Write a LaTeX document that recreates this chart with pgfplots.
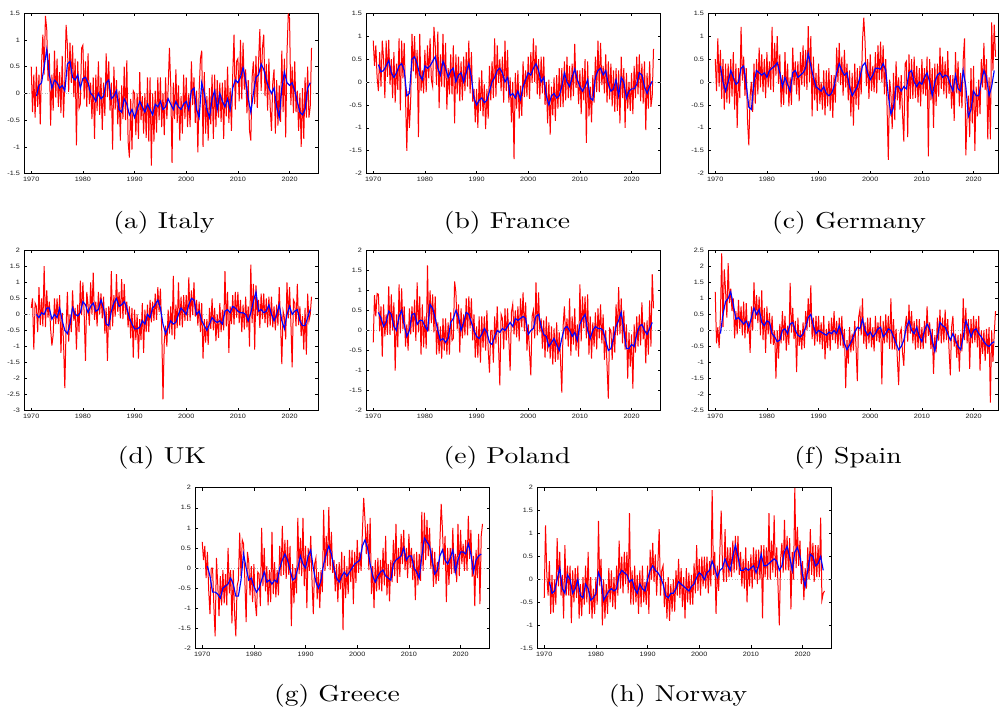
\documentclass[border=0pt]{standalone}
\usepackage{pgfplots}
\pgfplotsset{compat=1.18}
\usepackage{graphicx}
\usepackage{fontspec}
\newfontfamily\tickfont{Liberation Sans}
\pgfplotsset{
 panel/.style={
  scale only axis, width=294.5pt, height=160.5pt,
  xmin=1968.6, xmax=2025.6,
  xtick={1970,1980,1990,2000,2010,2020},
  tick align=inside, major tick length=3pt,
  axis line style={line width=1pt},
  every tick/.style={black, line width=0.6pt},
  /pgf/number format/assume math mode=true,
  ticklabel style={font=\tickfont\fontsize{6.3}{7}\selectfont, text=black!90, xscale=1.15},
  xticklabel style={/pgf/number format/1000 sep={}},
  anchor=south west,
 },
 redl/.style={red, line width=1pt, no markers},
 bluel/.style={blue, line width=1.15pt, no markers},
 zl/.style={gray!55, dotted, line width=0.6pt},
}
\newcommand\figcap[1]{\scalebox{2.76}[2.3]{\fontsize{10}{12}\selectfont #1}}
\begin{document}
\begin{tikzpicture}
\useasboundingbox (0,0) rectangle (999pt,708pt);
% ---------------- Italy
\begin{axis}[panel, at={(24pt,534.3pt)}, ymin=-1.5, ymax=1.5, ytick={-1.5,-1,-0.5,0,0.5,1,1.5}]
\addplot[zl] coordinates {(1968.6,0) (2025.6,0)};
\addplot[redl] table[header=false, row sep=\\, x expr={1970+0.25*\coordindex}, y index=0] {
0.50\\ -0.35\\ 0.35\\ -0.45\\
0.50\\ -0.25\\ 0.35\\ -0.58\\
0.55\\ 1.10\\ 0.35\\ 1.45\\
1.20\\ 0.23\\ 0.75\\ -0.60\\
0.35\\ -0.32\\ 0.80\\ -0.08\\
0.65\\ -0.25\\ 0.40\\ -0.37\\
0.70\\ -0.45\\ 0.25\\ 1.28\\
0.90\\ 0.03\\ 0.95\\ 0.20\\
0.90\\ -0.07\\ 0.65\\ -0.97\\
0.60\\ -0.28\\ -0.20\\ 0.85\\
0.90\\ -0.11\\ 0.60\\ -0.25\\
0.75\\ -0.20\\ 0.20\\ -0.48\\
0.30\\ -0.85\\ 0.35\\ -0.33\\
0.60\\ -0.40\\ 0.30\\ -0.68\\
0.20\\ -0.42\\ 0.75\\ -0.07\\
0.60\\ -0.32\\ 0.20\\ -1.05\\
0.50\\ -0.30\\ 0.25\\ -0.58\\
0.05\\ -0.88\\ 0.15\\ -0.48\\
0.50\\ -0.50\\ 0.62\\ -0.90\\
-1.20\\ -0.10\\ -1.05\\ 0.05\\
0.00\\ -0.78\\ 0.00\\ -0.85\\
0.40\\ -0.50\\ -0.05\\ -0.75\\
0.00\\ -0.83\\ 0.30\\ -0.90\\
0.30\\ -1.35\\ 0.00\\ -0.90\\
0.05\\ -0.73\\ 0.30\\ -0.50\\
0.30\\ -0.63\\ 0.00\\ -0.78\\
0.30\\ -0.48\\ 0.10\\ 0.85\\
0.15\\ -1.30\\ 0.20\\ -0.48\\
0.45\\ -0.55\\ 0.15\\ -0.88\\
-0.05\\ -0.75\\ 0.35\\ -0.48\\
0.30\\ -0.63\\ 0.00\\ -0.63\\
0.60\\ -0.22\\ 0.30\\ -0.55\\
0.05\\ -1.10\\ 0.05\\ 0.65\\
0.80\\ -1.00\\ 0.40\\ -0.75\\
-0.05\\ -0.88\\ 0.10\\ -0.58\\
0.35\\ -0.85\\ 0.35\\ -0.63\\
0.25\\ -0.45\\ 0.20\\ -0.53\\
0.20\\ -0.85\\ 0.25\\ -0.43\\
0.50\\ -0.55\\ 0.10\\ -0.70\\
0.35\\ 1.10\\ -0.30\\ 0.60\\
0.65\\ -0.15\\ 1.00\\ -0.11\\
0.95\\ 0.07\\ 0.45\\ -0.37\\
0.25\\ -0.70\\ -0.88\\ 0.30\\
0.60\\ -0.20\\ 0.70\\ -0.27\\
0.60\\ 1.20\\ 0.05\\ 0.85\\
1.10\\ -0.05\\ 0.55\\ -0.32\\
0.65\\ -0.25\\ -0.70\\ 0.20\\
0.45\\ -0.75\\ 0.25\\ -0.60\\
0.15\\ -0.53\\ 0.80\\ -0.35\\
0.65\\ -0.82\\ 0.75\\ 1.48\\
1.40\\ -0.22\\ 0.50\\ -0.37\\
0.60\\ -0.35\\ 0.05\\ -0.70\\
0.00\\ -1.00\\ 0.10\\ -0.85\\
0.30\\ -0.45\\ 0.50\\ -0.45\\
-0.25\\ 0.85\\
};
\addplot[bluel] table[header=false, row sep=\\, x expr={1971+0.5*\coordindex}, y index=0] {
-0.05\\ 0.15\\ 0.2\\ 0.5\\ 0.82\\ 0.35\\ 0.1\\ 0.25\\ 0.2\\ 0.1\\
0.15\\ 0.05\\ 0.55\\ 0.6\\ 0.3\\ 0.25\\ 0.35\\ 0.1\\ 0.28\\ 0.3\\
0.2\\ 0.0\\ -0.05\\ -0.15\\ 0.0\\ -0.1\\ -0.05\\ 0.2\\ 0.25\\ -0.1\\
-0.05\\ 0.05\\ -0.3\\ -0.35\\ -0.1\\ -0.2\\ -0.4\\ -0.3\\ -0.45\\ -0.3\\
-0.15\\ -0.25\\ -0.35\\ -0.2\\ -0.3\\ -0.4\\ -0.2\\ -0.25\\ -0.15\\ -0.3\\
-0.25\\ -0.1\\ -0.2\\ -0.3\\ -0.15\\ -0.25\\ -0.3\\ -0.2\\ -0.15\\ -0.3\\
0.05\\ 0.1\\ -0.3\\ -0.45\\ 0.2\\ 0.0\\ -0.3\\ -0.45\\ -0.1\\ 0.05\\
-0.3\\ 0.0\\ -0.15\\ -0.25\\ -0.1\\ -0.3\\ 0.1\\ 0.25\\ 0.2\\ 0.3\\
0.48\\ 0.25\\ -0.1\\ -0.35\\ 0.0\\ 0.3\\ 0.35\\ 0.55\\ 0.45\\ 0.25\\
0.1\\ 0.0\\ 0.1\\ -0.25\\ -0.45\\ 0.1\\ 0.4\\ 0.2\\ 0.15\\ 0.2\\
0.05\\ -0.15\\ -0.35\\ -0.4\\ -0.3\\ 0.1\\ 0.2\\
};
\end{axis}
% ---------------- France
\begin{axis}[panel, at={(366pt,534.3pt)}, ymin=-2, ymax=1.5, ytick={-2,-1.5,-1,-0.5,0,0.5,1,1.5}]
\addplot[zl] coordinates {(1968.6,0) (2025.6,0)};
\addplot[redl] table[header=false, row sep=\\, x expr={1970+0.25*\coordindex}, y index=0] {
0.90\\ 0.35\\ 0.80\\ 0.10\\
-0.20\\ 0.65\\ -0.10\\ 0.90\\
0.50\\ -0.35\\ 0.90\\ 0.11\\
0.92\\ -0.06\\ 0.50\\ -0.35\\
0.65\\ -0.45\\ 0.40\\ -0.17\\
0.95\\ -0.62\\ 0.90\\ 0.08\\
0.85\\ -0.35\\ -1.50\\ -0.20\\
-1.00\\ -0.40\\ 1.05\\ 0.23\\
1.00\\ 0.08\\ 0.70\\ -1.20\\
1.05\\ -0.20\\ 0.25\\ -0.25\\
0.70\\ -0.22\\ 0.80\\ 0.08\\
0.95\\ 0.05\\ -0.10\\ 1.20\\
0.80\\ -0.07\\ 1.10\\ -0.57\\
0.60\\ -0.10\\ 1.05\\ -0.12\\
0.85\\ -0.60\\ 0.30\\ -0.27\\
0.60\\ -0.27\\ 0.80\\ -0.90\\
0.60\\ -0.27\\ 0.55\\ -0.42\\
0.45\\ -0.40\\ 0.55\\ -0.20\\
0.65\\ -0.10\\ 0.90\\ -0.25\\
0.65\\ -0.43\\ -0.15\\ -0.88\\
-0.15\\ -1.00\\ 0.10\\ -0.63\\
0.25\\ -0.75\\ -0.05\\ -1.03\\
-0.15\\ -0.80\\ 0.35\\ -0.40\\
0.45\\ -0.35\\ 0.95\\ -0.32\\
0.80\\ -0.02\\ 0.50\\ -0.20\\
0.55\\ -0.45\\ 0.90\\ -0.20\\
0.70\\ -0.45\\ 0.10\\ -0.88\\
0.00\\ -1.68\\ 0.20\\ -0.58\\
0.25\\ -0.80\\ -0.08\\ -0.74\\
0.45\\ -0.33\\ 0.25\\ -0.32\\
0.55\\ -0.37\\ 0.65\\ -0.02\\
0.95\\ 0.00\\ 0.80\\ -0.27\\
0.50\\ -0.37\\ 0.55\\ -0.25\\
0.55\\ -0.50\\ 0.00\\ -0.90\\
0.05\\ -1.15\\ -0.10\\ -0.73\\
0.10\\ -0.85\\ 0.15\\ -0.58\\
0.30\\ -0.55\\ 0.30\\ -0.55\\
0.45\\ -0.40\\ 0.55\\ -0.35\\
0.35\\ -0.40\\ 0.40\\ -0.31\\
0.83\\ -0.13\\ 0.25\\ -0.48\\
0.25\\ -0.70\\ 0.30\\ -0.40\\
0.50\\ -1.33\\ 0.45\\ -0.75\\
-0.10\\ -0.88\\ 0.15\\ -0.45\\
0.55\\ -0.22\\ 0.90\\ -0.22\\
0.85\\ -0.07\\ 0.35\\ -0.25\\
0.60\\ -0.45\\ 0.45\\ -0.38\\
0.40\\ -0.53\\ 0.25\\ -0.65\\
0.30\\ -0.63\\ 0.25\\ -0.90\\
0.55\\ -0.35\\ 0.30\\ -1.00\\
0.20\\ -0.58\\ 0.00\\ -0.63\\
0.20\\ -0.70\\ 0.35\\ -0.35\\
0.55\\ -0.27\\ 0.60\\ -0.42\\
0.40\\ -0.47\\ 0.45\\ -1.05\\
0.20\\ -0.58\\ 0.45\\ -0.54\\
-0.30\\ 0.72\\
};
\addplot[bluel] table[header=false, row sep=\\, x expr={1971+0.5*\coordindex}, y index=0] {
0.38\\ 0.22\\ 0.25\\ 0.35\\ 0.47\\ 0.2\\ 0.1\\ 0.2\\ 0.35\\ 0.4\\
0.25\\ -0.3\\ -0.25\\ 0.5\\ 0.55\\ 0.4\\ 0.15\\ 0.05\\ 0.35\\ 0.3\\
0.35\\ 0.45\\ 0.55\\ 0.3\\ 0.15\\ 0.45\\ 0.3\\ 0.1\\ 0.25\\ 0.3\\
0.0\\ 0.15\\ 0.2\\ 0.0\\ 0.2\\ 0.4\\ 0.1\\ -0.35\\ -0.5\\ -0.4\\
-0.35\\ -0.45\\ -0.4\\ -0.2\\ 0.0\\ 0.1\\ 0.25\\ 0.3\\ 0.2\\ 0.0\\
0.1\\ -0.3\\ -0.25\\ -0.35\\ -0.2\\ -0.38\\ -0.1\\ 0.05\\ 0.2\\ 0.15\\
0.3\\ 0.4\\ 0.25\\ 0.0\\ 0.1\\ -0.3\\ -0.5\\ -0.3\\ -0.25\\ -0.35\\
-0.3\\ -0.1\\ 0.2\\ 0.0\\ -0.1\\ 0.1\\ 0.28\\ 0.05\\ -0.1\\ -0.2\\
-0.1\\ 0.05\\ -0.35\\ -0.4\\ 0.1\\ 0.25\\ 0.3\\ 0.15\\ 0.25\\ -0.05\\
-0.2\\ -0.15\\ 0.05\\ -0.3\\ 0.1\\ 0.0\\ -0.35\\ -0.2\\ -0.15\\ -0.15\\
-0.05\\ 0.2\\ 0.15\\ -0.1\\ -0.25\\ -0.1\\ 0.02\\
};
\end{axis}
% ---------------- Germany
\begin{axis}[panel, width=290pt, xmax=2024.73, at={(708pt,534.3pt)}, ymin=-2, ymax=1.5, ytick={-2,-1.5,-1,-0.5,0,0.5,1,1.5}]
\addplot[zl] coordinates {(1968.6,0) (2025.6,0)};
\addplot[redl] table[header=false, row sep=\\, x expr={1970+0.25*\coordindex}, y index=0] {
0.50\\ -0.20\\ 0.95\\ -0.10\\
0.70\\ -0.37\\ 0.50\\ -0.60\\
0.40\\ -0.45\\ 0.40\\ -0.47\\
0.50\\ -0.32\\ 0.65\\ -0.60\\
0.40\\ -1.00\\ 0.30\\ -0.35\\
1.20\\ 0.03\\ 0.55\\ -0.30\\
0.30\\ -0.85\\ -1.38\\ -0.30\\
0.00\\ -0.65\\ 0.40\\ -0.47\\
0.50\\ -0.27\\ 0.75\\ -0.12\\
0.60\\ -0.22\\ 0.50\\ -0.35\\
0.65\\ -0.12\\ 0.45\\ -0.17\\
1.20\\ -0.22\\ 0.85\\ 0.14\\
1.00\\ -0.04\\ 0.60\\ -0.55\\
0.15\\ -0.50\\ 0.65\\ -0.27\\
0.40\\ -0.53\\ 0.10\\ -0.50\\
0.75\\ -0.07\\ 0.45\\ -0.27\\
0.45\\ -0.42\\ 0.65\\ -0.07\\
0.80\\ -0.10\\ 0.70\\ -0.17\\
1.22\\ 0.00\\ 1.00\\ -0.75\\
0.55\\ -0.40\\ 0.20\\ -0.63\\
0.40\\ -0.48\\ 0.00\\ -0.60\\
0.25\\ -0.73\\ 0.25\\ -0.53\\
0.30\\ -0.63\\ 0.15\\ -0.78\\
0.15\\ -0.45\\ 0.75\\ 0.00\\
0.85\\ -0.07\\ 0.55\\ -0.30\\
0.70\\ -0.12\\ 0.40\\ -0.40\\
0.25\\ -0.75\\ 0.20\\ -0.95\\
0.40\\ -0.50\\ 0.30\\ -0.60\\
0.35\\ -0.27\\ 0.90\\ 1.40\\
0.87\\ -0.09\\ 0.50\\ -0.37\\
0.60\\ -0.20\\ 0.35\\ -0.22\\
0.65\\ -0.25\\ 0.80\\ 0.04\\
0.88\\ -0.01\\ 0.80\\ -0.27\\
0.50\\ -0.53\\ -1.70\\ 0.05\\
-0.25\\ -1.03\\ 0.20\\ -0.83\\
0.45\\ -0.40\\ 0.10\\ -0.60\\
0.15\\ -0.70\\ -1.30\\ 0.40\\
0.45\\ -1.20\\ 0.60\\ -0.37\\
0.50\\ -0.37\\ 0.55\\ -0.35\\
0.35\\ -0.45\\ 0.30\\ -0.53\\
0.50\\ -0.27\\ 0.30\\ -0.30\\
0.55\\ -1.62\\ 0.50\\ -0.40\\
0.30\\ -1.00\\ 0.40\\ -0.52\\
0.40\\ -0.32\\ 0.75\\ -0.15\\
0.55\\ -0.27\\ 0.45\\ -0.36\\
0.67\\ -0.26\\ 0.15\\ -0.58\\
0.15\\ -0.85\\ 0.65\\ -0.25\\
0.45\\ -0.53\\ 0.20\\ -0.57\\
0.50\\ 0.95\\ -1.60\\ -0.73\\
-0.30\\ -1.20\\ 0.30\\ -0.90\\
0.35\\ -1.50\\ -0.10\\ -0.75\\
0.05\\ -0.70\\ 0.50\\ -0.12\\
0.85\\ -0.17\\ 0.50\\ -1.25\\
0.10\\ -1.25\\ 1.30\\ 0.25\\
1.25\\ 0.55\\
};
\addplot[bluel] table[header=false, row sep=\\, x expr={1971+0.5*\coordindex}, y index=0] {
0.35\\ 0.0\\ -0.2\\ 0.0\\ 0.25\\ 0.1\\ -0.05\\ 0.0\\ 0.3\\ 0.35\\
-0.05\\ -0.55\\ -0.6\\ 0.0\\ 0.25\\ 0.2\\ 0.15\\ 0.2\\ 0.1\\ 0.25\\
0.3\\ 0.35\\ 0.42\\ 0.2\\ -0.1\\ 0.1\\ -0.05\\ -0.2\\ 0.2\\ 0.25\\
0.1\\ 0.15\\ 0.2\\ 0.3\\ 0.62\\ 0.35\\ 0.1\\ -0.1\\ -0.15\\ -0.2\\
-0.1\\ -0.25\\ -0.3\\ -0.25\\ -0.1\\ 0.2\\ 0.4\\ 0.25\\ 0.15\\ 0.2\\
-0.1\\ -0.3\\ -0.2\\ -0.1\\ 0.1\\ 0.35\\ 0.42\\ 0.2\\ 0.05\\ 0.15\\
0.3\\ 0.3\\ 0.28\\ 0.4\\ 0.25\\ -0.3\\ -0.7\\ -0.55\\ -0.1\\ -0.1\\
-0.2\\ -0.1\\ -0.15\\ 0.2\\ 0.25\\ 0.0\\ -0.1\\ 0.0\\ -0.05\\ 0.1\\
0.2\\ 0.0\\ -0.3\\ 0.0\\ 0.15\\ 0.2\\ 0.1\\ 0.15\\ 0.12\\ -0.05\\
-0.2\\ 0.15\\ -0.15\\ -0.2\\ 0.25\\ -0.1\\ -0.75\\ -0.6\\ -0.2\\ -0.3\\
-0.3\\ 0.0\\ 0.25\\ 0.1\\ -0.3\\ -0.1\\ 0.25\\
};
\end{axis}
% ---------------- UK
\begin{axis}[panel, at={(24pt,297.3pt)}, ymin=-3, ymax=2, ytick={-3,-2.5,-2,-1.5,-1,-0.5,0,0.5,1,1.5,2}]
\addplot[zl] coordinates {(1968.6,0) (2025.6,0)};
\addplot[redl] table[header=false, row sep=\\, x expr={1970+0.25*\coordindex}, y index=0] {
0.20\\ 0.50\\ -1.10\\ 0.35\\
0.25\\ -0.55\\ 0.85\\ -0.33\\
0.50\\ -0.37\\ 1.50\\ -0.40\\
0.75\\ -0.10\\ 0.40\\ -0.45\\
-0.97\\ -0.63\\ 0.50\\ -0.30\\
0.50\\ -0.30\\ 0.60\\ -1.20\\
0.05\\ -0.85\\ -2.30\\ -0.40\\
0.70\\ -0.85\\ 0.00\\ -0.55\\
0.75\\ -0.20\\ 0.20\\ -1.10\\
0.30\\ -0.55\\ 1.05\\ -0.02\\
1.00\\ 0.00\\ -1.45\\ 0.70\\
0.30\\ -0.35\\ 1.00\\ 0.00\\
1.30\\ -0.17\\ 0.40\\ -0.37\\
0.70\\ 0.00\\ 0.65\\ -0.12\\
0.55\\ -0.60\\ 0.20\\ -1.45\\
0.25\\ -0.48\\ 1.35\\ -0.37\\
0.60\\ -0.07\\ 1.25\\ 0.08\\
0.70\\ -0.12\\ 1.10\\ -0.15\\
0.95\\ 0.00\\ 0.40\\ -0.40\\
0.25\\ -0.75\\ 0.20\\ -1.35\\
0.15\\ -0.80\\ 0.00\\ -1.38\\
-0.15\\ -0.80\\ 0.35\\ -1.20\\
0.15\\ -0.55\\ 0.30\\ -0.55\\
0.45\\ -0.25\\ 0.40\\ -0.20\\
0.65\\ -0.17\\ 0.85\\ 0.08\\
0.80\\ -0.40\\ -2.65\\ -0.85\\
-0.35\\ -1.00\\ 0.15\\ -0.60\\
0.25\\ -0.65\\ 1.20\\ -0.78\\
0.30\\ -0.43\\ 1.00\\ -0.35\\
0.55\\ -0.40\\ 0.60\\ -0.20\\
0.60\\ -0.20\\ 1.15\\ -0.20\\
0.75\\ -0.02\\ 1.00\\ -0.07\\
0.45\\ -0.35\\ 0.40\\ -0.55\\
0.35\\ -1.38\\ -0.15\\ -0.88\\
-0.15\\ -0.95\\ 0.20\\ -0.45\\
0.50\\ -0.50\\ 0.20\\ -0.83\\
0.00\\ -0.73\\ 0.35\\ -0.55\\
0.15\\ -0.50\\ 1.35\\ -0.37\\
0.70\\ -1.20\\ 0.25\\ -0.30\\
0.60\\ -0.32\\ 0.70\\ -0.10\\
0.70\\ -0.27\\ 0.45\\ -0.55\\
0.30\\ -0.47\\ 0.55\\ -0.40\\
0.25\\ -1.00\\ 1.55\\ -0.27\\
0.95\\ -1.10\\ 0.90\\ -0.05\\
0.45\\ -0.42\\ 0.65\\ -0.15\\
0.65\\ -0.27\\ 0.50\\ -0.40\\
0.55\\ -0.35\\ 0.55\\ -0.40\\
0.25\\ -0.50\\ 0.30\\ -0.35\\
0.85\\ -0.25\\ -1.55\\ 0.10\\
-0.10\\ -0.78\\ 1.00\\ -0.12\\
0.85\\ -0.22\\ -1.65\\ 0.45\\
0.35\\ -0.37\\ 0.95\\ -0.33\\
0.25\\ -0.68\\ -0.05\\ -1.10\\
0.20\\ -1.25\\ 0.65\\ -0.20\\
0.00\\ 0.55\\
};
\addplot[bluel] table[header=false, row sep=\\, x expr={1971+0.5*\coordindex}, y index=0] {
0.0\\ -0.1\\ 0.05\\ 0.0\\ 0.2\\ 0.2\\ -0.15\\ 0.0\\ -0.1\\ 0.2\\
-0.2\\ -0.5\\ -0.6\\ -0.3\\ 0.2\\ 0.0\\ -0.05\\ 0.05\\ 0.4\\ 0.3\\
0.05\\ 0.25\\ 0.35\\ 0.1\\ 0.15\\ 0.45\\ 0.2\\ -0.3\\ -0.35\\ 0.1\\
0.35\\ 0.5\\ 0.25\\ 0.3\\ 0.4\\ 0.2\\ -0.1\\ -0.3\\ -0.45\\ -0.45\\
-0.4\\ -0.2\\ -0.3\\ 0.0\\ -0.1\\ 0.2\\ 0.3\\ 0.45\\ 0.2\\ -0.3\\
-0.6\\ -0.4\\ -0.2\\ -0.3\\ -0.25\\ 0.0\\ 0.2\\ 0.1\\ 0.0\\ 0.3\\
0.5\\ 0.45\\ 0.0\\ 0.1\\ -0.2\\ -0.35\\ -0.5\\ -0.3\\ -0.1\\ -0.2\\
-0.25\\ -0.2\\ -0.3\\ 0.1\\ 0.15\\ 0.05\\ 0.25\\ 0.2\\ 0.1\\ 0.05\\
0.05\\ 0.0\\ -0.2\\ 0.05\\ 0.4\\ 0.7\\ 0.1\\ 0.15\\ 0.05\\ 0.1\\
0.3\\ 0.0\\ -0.2\\ 0.0\\ 0.3\\ -0.2\\ -0.45\\ 0.0\\ 0.25\\ 0.0\\
0.1\\ 0.15\\ -0.2\\ -0.35\\ -0.35\\ -0.1\\ 0.15\\
};
\end{axis}
% ---------------- Poland
\begin{axis}[panel, at={(366pt,297.3pt)}, ymin=-2, ymax=2, ytick={-2,-1.5,-1,-0.5,0,0.5,1,1.5,2}]
\addplot[zl] coordinates {(1968.6,0) (2025.6,0)};
\addplot[redl] table[header=false, row sep=\\, x expr={1970+0.25*\coordindex}, y index=0] {
-0.30\\ 0.88\\ 0.35\\ 0.92\\
0.90\\ -0.02\\ 0.60\\ -0.65\\
0.65\\ -0.15\\ 0.40\\ -0.11\\
1.10\\ -0.11\\ 0.90\\ 0.00\\
0.70\\ -1.00\\ 0.40\\ -0.42\\
1.15\\ -0.07\\ 1.05\\ 0.03\\
0.60\\ -0.40\\ 0.15\\ -0.50\\
0.55\\ -0.10\\ 0.60\\ -0.04\\
0.77\\ -0.26\\ 1.20\\ -0.05\\
0.85\\ -0.60\\ 0.65\\ -0.42\\
0.35\\ -0.45\\ 1.62\\ -0.02\\
1.00\\ 0.18\\ 0.90\\ -0.05\\
0.85\\ -0.60\\ 0.20\\ -0.58\\
0.10\\ -0.70\\ 0.30\\ -0.50\\
0.30\\ -0.60\\ 0.20\\ -0.60\\
0.45\\ -0.25\\ -0.20\\ 1.22\\
0.95\\ 0.03\\ 0.65\\ -0.55\\
0.55\\ -0.20\\ 0.40\\ -0.12\\
0.80\\ -0.12\\ 0.85\\ 0.05\\
0.80\\ -0.25\\ 0.40\\ -0.68\\
0.10\\ -0.68\\ 0.35\\ -0.80\\
0.35\\ -0.43\\ 0.35\\ -0.50\\
0.50\\ -0.48\\ -1.05\\ 0.00\\
0.00\\ -0.80\\ 0.35\\ -0.33\\
0.60\\ -0.38\\ -1.37\\ 0.40\\
0.30\\ -0.47\\ 0.55\\ -0.25\\
0.55\\ -0.25\\ -1.00\\ 0.45\\
0.65\\ -0.10\\ 0.50\\ -0.17\\
0.60\\ -0.27\\ 0.80\\ 0.08\\
0.95\\ -0.02\\ 0.70\\ -0.50\\
0.15\\ -0.55\\ -1.12\\ 0.35\\
0.50\\ -0.20\\ 1.20\\ -0.12\\
0.95\\ -0.05\\ 0.30\\ -0.45\\
0.25\\ -0.68\\ 0.35\\ -0.53\\
0.20\\ -0.70\\ 0.10\\ -0.85\\
0.05\\ -0.78\\ 0.20\\ -0.73\\
-0.05\\ -0.75\\ -1.55\\ 0.10\\
0.60\\ -0.22\\ 0.30\\ -0.40\\
0.80\\ -0.63\\ 0.35\\ -0.35\\
0.55\\ -0.50\\ 0.15\\ -0.65\\
1.15\\ -0.27\\ 0.85\\ 0.05\\
0.85\\ -0.20\\ 0.90\\ -0.60\\
0.35\\ -0.70\\ 0.20\\ -0.40\\
0.45\\ -0.47\\ 0.55\\ -0.20\\
0.65\\ -0.32\\ 0.40\\ -0.73\\
0.00\\ -0.88\\ -1.70\\ 0.05\\
0.00\\ -0.73\\ 0.10\\ -0.55\\
0.65\\ -0.12\\ 1.08\\ -0.10\\
0.80\\ -0.32\\ 0.50\\ -0.48\\
0.15\\ -1.20\\ -0.05\\ -0.90\\
-0.10\\ -1.45\\ 0.15\\ -0.55\\
0.35\\ -0.40\\ 0.40\\ -0.37\\
0.70\\ -0.22\\ 0.20\\ -0.82\\
0.25\\ -0.60\\ 0.75\\ -0.40\\
1.40\\ 0.55\\
};
\addplot[bluel] table[header=false, row sep=\\, x expr={1971+0.5*\coordindex}, y index=0] {
0.45\\ 0.3\\ 0.1\\ 0.2\\ 0.48\\ 0.4\\ 0.1\\ 0.0\\ 0.35\\ 0.5\\
0.15\\ -0.15\\ 0.0\\ 0.4\\ 0.42\\ 0.15\\ 0.25\\ 0.25\\ 0.1\\ 0.0\\
0.65\\ 0.55\\ 0.3\\ 0.0\\ -0.25\\ -0.2\\ -0.3\\ -0.2\\ 0.2\\ 0.3\\
0.5\\ 0.35\\ 0.0\\ 0.2\\ 0.45\\ 0.4\\ 0.2\\ 0.0\\ -0.15\\ -0.2\\
-0.1\\ 0.05\\ -0.05\\ -0.3\\ -0.35\\ -0.15\\ 0.0\\ -0.05\\ 0.05\\ 0.0\\
0.1\\ 0.2\\ 0.1\\ 0.3\\ 0.25\\ 0.3\\ 0.35\\ 0.3\\ -0.1\\ 0.0\\
0.05\\ 0.35\\ 0.4\\ 0.1\\ -0.1\\ -0.15\\ -0.4\\ -0.3\\ -0.2\\ -0.35\\
-0.5\\ -0.2\\ 0.05\\ 0.1\\ 0.0\\ -0.15\\ -0.05\\ -0.25\\ 0.15\\ 0.3\\
0.4\\ 0.0\\ -0.2\\ 0.0\\ 0.1\\ 0.05\\ 0.05\\ 0.0\\ -0.25\\ -0.5\\
-0.45\\ -0.2\\ 0.1\\ 0.25\\ 0.45\\ 0.0\\ -0.45\\ -0.45\\ -0.35\\ -0.4\\
-0.1\\ 0.1\\ 0.15\\ 0.0\\ -0.1\\ 0.05\\ 0.2\\
};
\end{axis}
% ---------------- Spain
\begin{axis}[panel, width=290pt, xmax=2024.73, at={(708pt,297.3pt)}, ymin=-2.5, ymax=2.5, ytick={-2.5,-2,-1.5,-1,-0.5,0,0.5,1,1.5,2,2.5}]
\addplot[zl] coordinates {(1968.6,0) (2025.6,0)};
\addplot[redl] table[header=false, row sep=\\, x expr={1970+0.25*\coordindex}, y index=0] {
1.20\\ -0.40\\ 0.10\\ -0.55\\
0.45\\ 2.40\\ 0.10\\ 1.90\\
1.25\\ 0.40\\ 2.10\\ 0.85\\
1.30\\ 0.60\\ 1.00\\ -0.25\\
0.60\\ -0.12\\ 0.95\\ 0.05\\
0.75\\ -0.15\\ 0.90\\ -0.25\\
0.85\\ -0.10\\ 0.30\\ -0.70\\
0.75\\ 0.00\\ 1.50\\ 0.35\\
1.10\\ 0.23\\ 1.05\\ -0.15\\
1.25\\ -0.30\\ 0.70\\ -0.70\\
0.75\\ -0.12\\ 0.55\\ -0.42\\
0.45\\ -0.45\\ 0.00\\ -1.50\\
0.00\\ -0.88\\ 0.20\\ -0.40\\
0.60\\ -0.32\\ 0.45\\ -0.63\\
0.15\\ -0.45\\ 1.48\\ -0.07\\
0.70\\ -0.27\\ 0.30\\ -1.30\\
0.40\\ -0.48\\ 0.00\\ -0.60\\
0.25\\ -0.55\\ 0.60\\ 0.00\\
1.00\\ 0.10\\ 1.40\\ -0.27\\
0.40\\ -0.47\\ 0.45\\ -0.35\\
0.45\\ -0.43\\ 0.25\\ -0.58\\
0.45\\ -0.90\\ 0.05\\ -0.55\\
0.30\\ -0.63\\ 0.40\\ -0.30\\
0.60\\ -0.40\\ 0.30\\ -0.57\\
0.40\\ -0.47\\ 0.45\\ -0.55\\
0.05\\ -1.80\\ -0.30\\ -1.03\\
0.10\\ -0.68\\ -0.10\\ -0.63\\
0.30\\ -0.52\\ -1.58\\ 0.40\\
0.65\\ -0.15\\ 1.00\\ -0.42\\
0.25\\ -0.58\\ 0.40\\ -0.40\\
0.40\\ -0.53\\ 0.10\\ -0.65\\
0.45\\ -0.33\\ 0.25\\ -0.37\\
0.45\\ -1.68\\ 0.30\\ -0.40\\
0.50\\ -0.38\\ 0.45\\ -0.57\\
1.00\\ -0.60\\ 0.35\\ -0.60\\
0.05\\ -0.90\\ -1.70\\ -0.10\\
0.05\\ -0.70\\ -1.10\\ 0.10\\
0.45\\ -0.35\\ 0.80\\ -0.10\\
0.60\\ -0.40\\ 0.30\\ -0.60\\
0.35\\ -0.55\\ 0.35\\ -0.58\\
0.10\\ -0.58\\ 0.30\\ -0.40\\
0.75\\ -0.17\\ 0.25\\ -0.58\\
0.05\\ -1.35\\ -0.15\\ -0.68\\
0.40\\ -0.32\\ 0.65\\ -0.40\\
0.40\\ -0.37\\ 0.65\\ -0.30\\
0.35\\ -0.60\\ -1.40\\ 0.10\\
0.45\\ -0.50\\ -0.10\\ -0.85\\
-0.15\\ -1.28\\ -0.10\\ -0.65\\
1.00\\ -0.30\\ 0.70\\ -0.40\\
0.35\\ -1.20\\ 0.35\\ -0.40\\
0.45\\ -0.37\\ 0.35\\ -0.53\\
0.45\\ -1.25\\ 0.00\\ -0.73\\
0.00\\ -0.95\\ 0.05\\ -0.73\\
0.10\\ -2.25\\ 0.00\\ -0.98\\
-0.10\\ 0.60\\
};
\addplot[bluel] table[header=false, row sep=\\, x expr={1971+0.5*\coordindex}, y index=0] {
-0.1\\ 0.5\\ 0.9\\ 1.0\\ 1.2\\ 0.8\\ 0.35\\ 0.4\\ 0.3\\ 0.2\\
0.3\\ 0.1\\ 0.4\\ 0.7\\ 0.5\\ 0.65\\ 0.25\\ 0.15\\ 0.3\\ 0.25\\
-0.1\\ -0.2\\ -0.35\\ -0.3\\ 0.0\\ 0.05\\ -0.1\\ 0.2\\ 0.25\\ 0.0\\
-0.15\\ -0.2\\ -0.1\\ 0.1\\ 0.4\\ 0.5\\ 0.15\\ -0.1\\ 0.0\\ -0.05\\
-0.1\\ -0.15\\ -0.05\\ -0.1\\ 0.0\\ -0.1\\ 0.15\\ -0.1\\ -0.4\\ -0.6\\
-0.45\\ -0.3\\ -0.05\\ 0.1\\ 0.05\\ 0.35\\ 0.0\\ -0.15\\ -0.05\\ -0.2\\
-0.1\\ 0.05\\ 0.1\\ -0.2\\ -0.1\\ 0.05\\ 0.0\\ -0.2\\ -0.4\\ -0.6\\
-0.5\\ -0.3\\ 0.1\\ 0.3\\ 0.0\\ -0.1\\ 0.1\\ -0.2\\ -0.35\\ 0.0\\
0.2\\ 0.05\\ -0.3\\ -0.65\\ -0.2\\ 0.25\\ 0.15\\ 0.1\\ -0.1\\ -0.3\\
-0.1\\ -0.3\\ -0.5\\ -0.6\\ -0.2\\ 0.3\\ 0.1\\ -0.2\\ 0.0\\ 0.05\\
-0.1\\ -0.2\\ -0.35\\ -0.45\\ -0.5\\ -0.4\\ -0.35\\
};
\end{axis}
% ---------------- Greece
\begin{axis}[panel, at={(195pt,59.7pt)}, ymin=-2, ymax=2, ytick={-2,-1.5,-1,-0.5,0,0.5,1,1.5,2}]
\addplot[zl] coordinates {(1968.6,0) (2025.6,0)};
\addplot[redl] table[header=false, row sep=\\, x expr={1970+0.25*\coordindex}, y index=0] {
0.65\\ 0.20\\ 0.55\\ -0.25\\
0.40\\ -0.55\\ -1.15\\ 0.00\\
0.00\\ -0.95\\ -1.70\\ 0.25\\
-0.40\\ -1.20\\ -0.20\\ -0.93\\
-0.05\\ -0.88\\ -0.15\\ -0.93\\
0.50\\ -0.63\\ -0.05\\ -1.38\\
-0.05\\ -1.10\\ -1.70\\ -0.45\\
-0.30\\ 0.88\\ -0.20\\ 0.70\\
0.60\\ -0.32\\ -1.35\\ 0.40\\
0.15\\ -0.68\\ 0.05\\ -0.85\\
0.10\\ -0.83\\ -1.20\\ -0.10\\
-0.15\\ -0.95\\ 1.00\\ -0.45\\
0.50\\ -0.58\\ 0.05\\ -0.93\\
-0.05\\ -0.85\\ 0.90\\ -0.65\\
0.15\\ -0.73\\ -0.05\\ -0.68\\
0.55\\ -0.20\\ 1.05\\ -0.17\\
0.70\\ -0.27\\ 0.70\\ -0.17\\
0.55\\ -1.45\\ 0.10\\ -0.88\\
0.00\\ -0.63\\ 1.25\\ -0.15\\
0.75\\ -0.20\\ 1.25\\ -0.45\\
0.55\\ -1.00\\ 0.50\\ -0.07\\
0.80\\ -0.32\\ -1.15\\ 0.10\\
0.25\\ -0.78\\ -0.10\\ -1.00\\
-0.05\\ -0.60\\ 1.45\\ -0.07\\
0.80\\ 0.05\\ 1.52\\ -0.05\\
0.90\\ -0.12\\ 0.20\\ -0.58\\
0.10\\ -0.85\\ 0.15\\ -0.53\\
0.40\\ -1.55\\ 0.30\\ -0.75\\
0.05\\ -0.65\\ 0.45\\ -0.35\\
0.45\\ -0.90\\ 0.40\\ -0.37\\
0.70\\ -0.12\\ 0.40\\ -0.07\\
0.90\\ 1.75\\ 1.20\\ 0.35\\
1.10\\ -0.05\\ 1.25\\ -0.65\\
0.05\\ -1.00\\ 0.20\\ -0.58\\
0.25\\ -0.55\\ 0.20\\ -0.58\\
0.50\\ -0.43\\ 0.80\\ -0.68\\
0.10\\ -0.83\\ 0.20\\ -0.35\\
0.70\\ -0.20\\ 1.10\\ -0.37\\
0.50\\ -0.22\\ 0.85\\ 0.10\\
0.95\\ -0.05\\ 0.50\\ -0.25\\
0.85\\ 0.00\\ 0.50\\ -0.30\\
0.35\\ -0.80\\ 0.40\\ -0.43\\
0.35\\ -0.32\\ 1.40\\ -0.07\\
1.38\\ 0.20\\ 1.20\\ 0.30\\
1.00\\ -0.02\\ 0.50\\ -0.47\\
0.40\\ -0.40\\ 0.15\\ -0.32\\
0.65\\ 1.60\\ 0.95\\ 0.08\\
0.80\\ -0.85\\ 0.50\\ -0.42\\
0.50\\ -0.15\\ 1.00\\ -0.12\\
0.35\\ -0.35\\ 1.10\\ -0.20\\
0.95\\ 0.10\\ 0.60\\ -0.07\\
0.70\\ -0.07\\ 1.30\\ 0.23\\
0.95\\ -0.22\\ 0.30\\ -0.95\\
0.45\\ -0.25\\ 0.85\\ -0.90\\
0.80\\ 1.10\\
};
\addplot[bluel] table[header=false, row sep=\\, x expr={1971+0.5*\coordindex}, y index=0] {
0.05\\ -0.2\\ -0.6\\ -0.6\\ -0.65\\ -0.75\\ -0.5\\ -0.45\\ -0.4\\ -0.25\\
-0.4\\ -0.7\\ -0.7\\ -0.3\\ 0.35\\ 0.0\\ -0.3\\ -0.25\\ -0.45\\ -0.6\\
-0.5\\ -0.3\\ -0.1\\ -0.35\\ -0.3\\ -0.4\\ -0.3\\ -0.35\\ 0.0\\ 0.2\\
0.35\\ 0.2\\ -0.05\\ -0.3\\ -0.25\\ 0.0\\ 0.3\\ 0.1\\ 0.0\\ 0.3\\
0.45\\ 0.0\\ -0.35\\ -0.5\\ -0.3\\ 0.1\\ 0.35\\ 0.55\\ 0.35\\ 0.0\\
-0.25\\ -0.35\\ -0.2\\ -0.1\\ -0.2\\ -0.1\\ 0.0\\ 0.1\\ 0.15\\ 0.2\\
0.55\\ 0.7\\ 0.5\\ 0.1\\ -0.2\\ -0.35\\ -0.2\\ -0.1\\ -0.05\\ -0.2\\
-0.25\\ -0.3\\ 0.1\\ 0.2\\ 0.25\\ 0.3\\ 0.5\\ 0.2\\ 0.3\\ 0.3\\
0.0\\ -0.1\\ -0.25\\ 0.3\\ 0.75\\ 0.65\\ 0.55\\ 0.2\\ -0.15\\ -0.05\\
0.3\\ 0.45\\ 0.2\\ 0.1\\ 0.25\\ 0.45\\ -0.1\\ 0.2\\ 0.4\\ 0.4\\
0.35\\ 0.6\\ 0.35\\ -0.1\\ 0.2\\ 0.3\\ 0.35\\
};
\end{axis}
% ---------------- Norway
\begin{axis}[panel, at={(537pt,59.7pt)}, ymin=-1.5, ymax=2, ytick={-1.5,-1,-0.5,0,0.5,1,1.5,2}]
\addplot[zl] coordinates {(1968.6,0) (2025.6,0)};
\addplot[redl] table[header=false, row sep=\\, x expr={1970+0.25*\coordindex}, y index=0] {
-0.40\\ 1.18\\ 0.10\\ -0.35\\
0.40\\ -0.75\\ 0.10\\ -0.72\\
0.00\\ -0.55\\ 0.90\\ -0.15\\
0.60\\ -0.35\\ 0.10\\ -0.85\\
0.75\\ -0.35\\ 0.30\\ -0.35\\
0.30\\ -0.95\\ 0.20\\ -0.50\\
0.25\\ -0.40\\ 0.30\\ -0.85\\
-0.10\\ -0.80\\ 0.05\\ -0.55\\
0.30\\ -0.50\\ 0.60\\ -0.75\\
0.05\\ -0.85\\ -0.20\\ -0.75\\
0.05\\ -0.55\\ 1.28\\ -0.15\\
0.45\\ -1.00\\ 0.00\\ -0.85\\
-0.10\\ -0.75\\ 0.25\\ -0.50\\
0.20\\ -0.60\\ 0.05\\ -0.65\\
0.30\\ -0.35\\ 0.85\\ -0.20\\
0.50\\ -0.30\\ 0.60\\ -0.10\\
0.60\\ -0.30\\ 1.45\\ -0.55\\
0.20\\ -0.55\\ 0.30\\ -0.50\\
0.10\\ -0.75\\ 0.20\\ -0.60\\
0.30\\ -0.50\\ -0.05\\ -0.55\\
0.30\\ -0.75\\ 0.65\\ 0.00\\
0.80\\ -0.05\\ 0.55\\ -0.35\\
0.35\\ 1.10\\ -0.35\\ 0.20\\
0.30\\ -0.60\\ -0.05\\ -0.85\\
0.05\\ -0.90\\ -0.10\\ -0.70\\
0.00\\ -0.70\\ 0.20\\ -0.35\\
0.45\\ -0.40\\ 0.25\\ -0.60\\
0.05\\ -0.85\\ 0.25\\ -0.50\\
0.15\\ -0.55\\ 0.10\\ -0.55\\
0.35\\ -0.30\\ 0.75\\ -0.25\\
0.45\\ -0.35\\ 0.50\\ -0.15\\
0.50\\ -0.20\\ 0.50\\ -0.30\\
0.40\\ -0.15\\ 1.95\\ 0.10\\
0.60\\ -0.75\\ 0.30\\ -0.25\\
0.65\\ 1.50\\ 0.30\\ -0.05\\
1.10\\ -0.05\\ 0.70\\ 0.05\\
0.70\\ 0.05\\ 0.85\\ 0.15\\
0.95\\ 0.20\\ 0.95\\ 0.10\\
0.60\\ -0.15\\ 0.45\\ -0.20\\
0.70\\ -0.50\\ 0.40\\ -0.15\\
0.55\\ -0.20\\ 0.70\\ 0.00\\
0.65\\ -0.10\\ 0.65\\ 0.00\\
0.75\\ -0.85\\ 0.75\\ 0.05\\
0.70\\ 0.00\\ 1.45\\ 0.00\\
0.85\\ 0.15\\ 1.40\\ 0.05\\
0.70\\ -0.15\\ -1.00\\ 0.45\\
0.80\\ 0.15\\ 1.30\\ 0.20\\
0.95\\ 0.20\\ 0.90\\ -0.65\\
0.60\\ 0.00\\ 2.00\\ 0.25\\
1.15\\ 0.30\\ 0.85\\ -0.10\\
0.40\\ -0.45\\ 0.25\\ -0.20\\
0.70\\ 0.00\\ 1.10\\ 0.10\\
0.80\\ -0.05\\ 0.75\\ 0.05\\
0.75\\ 0.05\\ 1.35\\ -0.45\\
-0.30\\ -0.25\\
};
\addplot[bluel] table[header=false, row sep=\\, x expr={1971+0.5*\coordindex}, y index=0] {
-0.05\\ -0.3\\ -0.25\\ 0.0\\ 0.25\\ -0.2\\ -0.3\\ 0.1\\ 0.0\\ -0.3\\
-0.2\\ 0.0\\ -0.35\\ -0.4\\ -0.1\\ -0.2\\ -0.45\\ -0.4\\ -0.3\\ 0.15\\
0.0\\ -0.45\\ -0.35\\ -0.25\\ -0.2\\ -0.25\\ -0.2\\ 0.1\\ 0.2\\ 0.15\\
0.1\\ -0.05\\ 0.0\\ -0.2\\ -0.3\\ -0.1\\ -0.2\\ -0.25\\ 0.0\\ 0.2\\
0.3\\ 0.2\\ 0.15\\ 0.05\\ -0.1\\ -0.35\\ -0.4\\ -0.3\\ -0.3\\ -0.2\\
-0.05\\ -0.1\\ -0.15\\ -0.2\\ -0.25\\ -0.15\\ -0.1\\ 0.05\\ 0.15\\ 0.1\\
0.0\\ 0.15\\ 0.2\\ 0.4\\ 0.25\\ 0.05\\ 0.2\\ 0.25\\ 0.45\\ 0.3\\
0.2\\ 0.5\\ 0.75\\ 0.5\\ 0.2\\ 0.2\\ 0.25\\ 0.2\\ 0.25\\ 0.3\\
0.15\\ 0.3\\ 0.55\\ 0.3\\ 0.3\\ 0.35\\ 0.4\\ 0.45\\ 0.4\\ 0.2\\
0.3\\ 0.6\\ 0.72\\ 0.5\\ 0.2\\ 0.6\\ 0.7\\ 0.5\\ 0.1\\ -0.15\\
0.2\\ 0.55\\ 0.5\\ 0.3\\ 0.35\\ 0.5\\ 0.2\\
};
\end{axis}
% ---------------- captions
\node[anchor=base] at (164pt,479.5pt) {\figcap{(a) Italy}};
\node[anchor=base] at (507pt,479.5pt) {\figcap{(b) France}};
\node[anchor=base] at (849pt,479.5pt) {\figcap{(c) Germany}};
\node[anchor=base] at (162pt,244pt) {\figcap{(d) UK}};
\node[anchor=base] at (507pt,244pt) {\figcap{(e) Poland}};
\node[anchor=base] at (848pt,244pt) {\figcap{(f) Spain}};
\node[anchor=base] at (337pt,6.6pt) {\figcap{(g) Greece}};
\node[anchor=base] at (678pt,6.6pt) {\figcap{(h) Norway}};
\end{tikzpicture}
\end{document}
